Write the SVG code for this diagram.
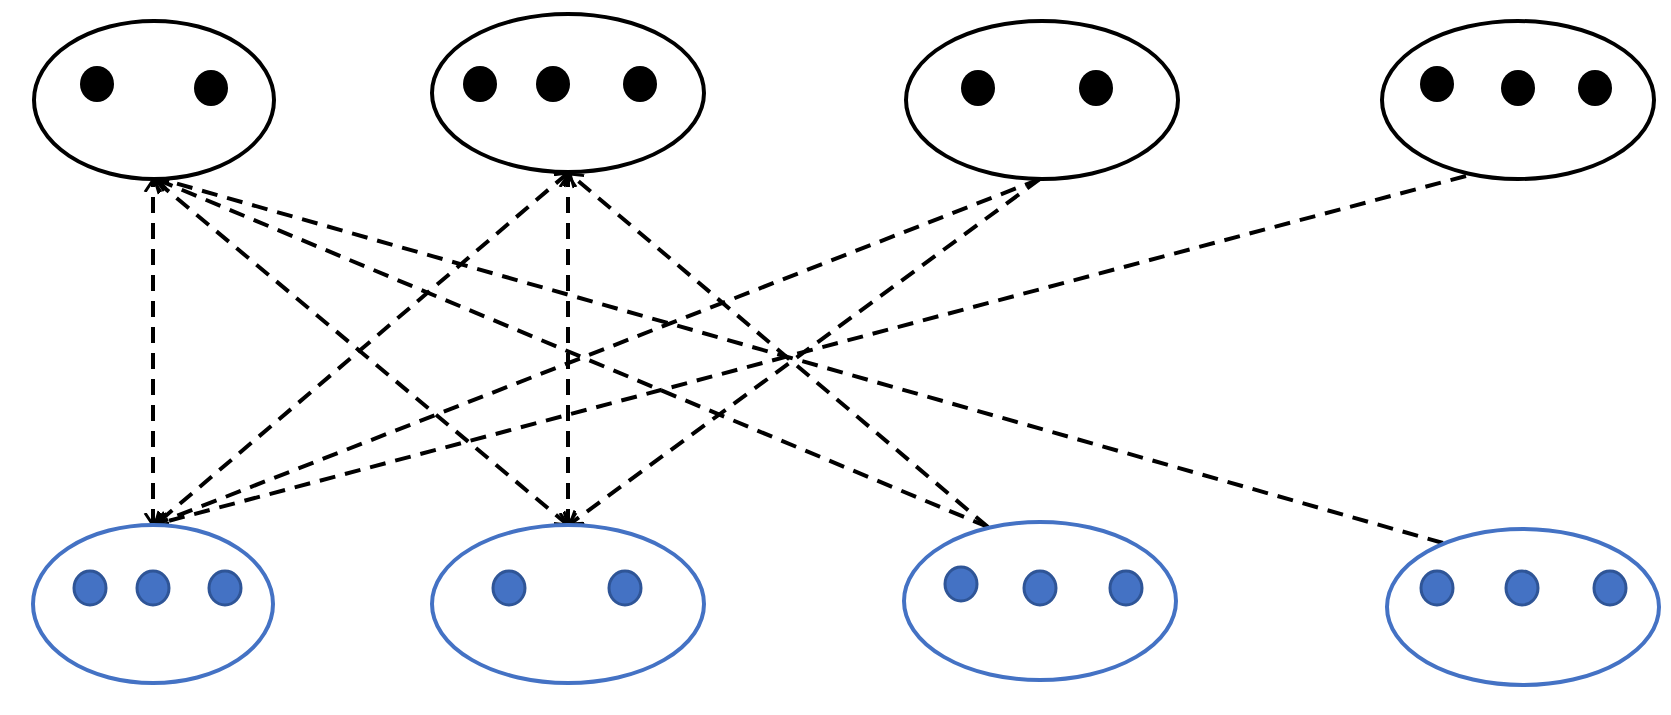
<svg xmlns="http://www.w3.org/2000/svg" width="1671" height="715" viewBox="0 0 1671 715">
<defs>
<style>
.top{fill:#fff;stroke:#000;stroke-width:4}
.bot{fill:#fff;stroke:#4472C4;stroke-width:4}
.bd{fill:#000}
.bl{fill:#4472C4;stroke:#2F5597;stroke-width:3}
.c line{stroke:#000;stroke-width:4;stroke-dasharray:16 10;fill:none}
</style>
<marker id="a" markerUnits="userSpaceOnUse" markerWidth="24" markerHeight="24" viewBox="-12 -12 24 24" refX="0" refY="0" orient="auto-start-reverse">
<path d="M-12,-8 L0,0 L-12,8" fill="none" stroke="#000" stroke-width="3"/>
</marker>
</defs>
<rect width="1671" height="715" fill="#fff"/>
<g class="c" id="connectors">
<line x1="153" y1="525" x2="153" y2="180" marker-start="url(#a)" marker-end="url(#a)"/>
<line x1="568" y1="525" x2="155" y2="180" marker-start="url(#a)" marker-end="url(#a)"/>
<line x1="988" y1="527" x2="156" y2="179" marker-end="url(#a)"/>
<line x1="1443" y1="543" x2="157" y2="178" marker-end="url(#a)"/>
<line x1="568" y1="173" x2="155" y2="525" marker-start="url(#a)" marker-end="url(#a)"/>
<line x1="568" y1="525" x2="568" y2="175" marker-start="url(#a)" marker-end="url(#a)"/>
<line x1="988" y1="527" x2="570" y2="174" marker-end="url(#a)"/>
<line x1="1040" y1="179" x2="156" y2="524" marker-end="url(#a)"/>
<line x1="1040" y1="179" x2="570" y2="524" marker-end="url(#a)"/>
<line x1="1466" y1="176" x2="157" y2="524" marker-end="url(#a)"/>
</g>
<g id="t1"><ellipse class="top" cx="154" cy="100" rx="120" ry="79"/><ellipse class="bd" cx="97" cy="84" rx="17" ry="18"/><ellipse class="bd" cx="211" cy="88" rx="17" ry="18"/></g>
<g id="t2"><ellipse class="top" cx="568" cy="93" rx="136" ry="79"/><ellipse class="bd" cx="480" cy="84" rx="17" ry="18"/><ellipse class="bd" cx="553" cy="84" rx="17" ry="18"/><ellipse class="bd" cx="640" cy="84" rx="17" ry="18"/></g>
<g id="t3"><ellipse class="top" cx="1042" cy="100" rx="136" ry="79"/><ellipse class="bd" cx="978" cy="88" rx="17" ry="18"/><ellipse class="bd" cx="1096" cy="88" rx="17" ry="18"/></g>
<g id="t4"><ellipse class="top" cx="1518" cy="100" rx="136" ry="79"/><ellipse class="bd" cx="1437" cy="84" rx="17" ry="18"/><ellipse class="bd" cx="1518" cy="88" rx="17" ry="18"/><ellipse class="bd" cx="1595" cy="88" rx="17" ry="18"/></g>
<g id="b1"><ellipse class="bot" cx="153" cy="604" rx="120" ry="79"/><ellipse class="bl" cx="90" cy="588" rx="16" ry="17"/><ellipse class="bl" cx="153" cy="588" rx="16" ry="17"/><ellipse class="bl" cx="225" cy="588" rx="16" ry="17"/></g>
<g id="b2"><ellipse class="bot" cx="568" cy="604" rx="136" ry="79"/><ellipse class="bl" cx="509" cy="588" rx="16" ry="17"/><ellipse class="bl" cx="625" cy="588" rx="16" ry="17"/></g>
<g id="b3"><ellipse class="bot" cx="1040" cy="601" rx="136" ry="79"/><ellipse class="bl" cx="961" cy="584" rx="16" ry="17"/><ellipse class="bl" cx="1040" cy="588" rx="16" ry="17"/><ellipse class="bl" cx="1126" cy="588" rx="16" ry="17"/></g>
<g id="b4"><ellipse class="bot" cx="1523" cy="607" rx="136" ry="78"/><ellipse class="bl" cx="1437" cy="588" rx="16" ry="17"/><ellipse class="bl" cx="1522" cy="588" rx="16" ry="17"/><ellipse class="bl" cx="1610" cy="588" rx="16" ry="17"/></g>
</svg>
